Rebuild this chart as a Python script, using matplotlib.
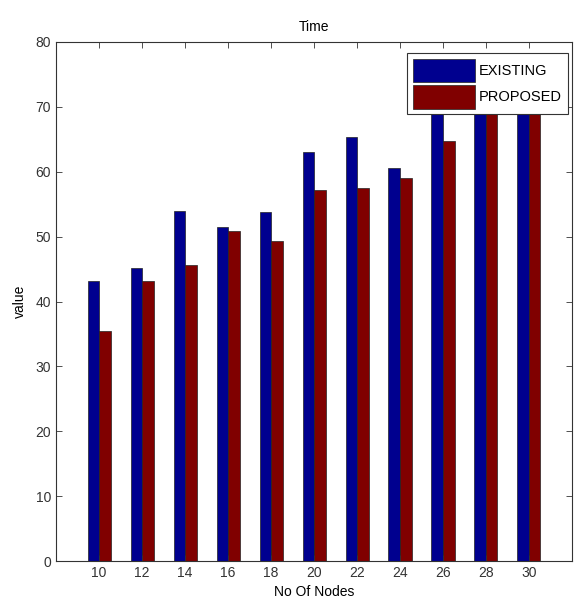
import numpy as np
import matplotlib
matplotlib.use("Agg")
import matplotlib.pyplot as plt

plt.rcParams['font.family'] = ['Liberation Sans Narrow', 'Liberation Sans', 'DejaVu Sans']

nodes = [10, 12, 14, 16, 18, 20, 22, 24, 26, 28, 30]
existing = [43.1, 45.2, 54.0, 51.5, 53.8, 63.1, 65.4, 60.6, 71.5, 75.5, 77.0]
proposed = [35.5, 43.2, 45.7, 50.9, 49.4, 57.2, 57.5, 59.1, 64.7, 72.0, 74.0]

fig = plt.figure(figsize=(5.74, 6.13), dpi=100)
ax = fig.add_axes([0.0976, 0.0848, 0.8989, 0.8467])

x = np.array(nodes)
w = 0.535
ax.bar(x - w / 2, existing, width=w, color=(0, 0, 0.5625), edgecolor='#222222',
       linewidth=0.5, label='EXISTING')
ax.bar(x + w / 2, proposed, width=w, color=(0.5, 0, 0), edgecolor='#222222',
       linewidth=0.5, label='PROPOSED')

ax.set_xlim(8, 32)
ax.set_ylim(0, 80)
ax.set_xticks(nodes)
ax.set_yticks(range(0, 81, 10))
ax.tick_params(direction='in', top=True, right=True, length=4, width=0.6,
               labelsize=10, colors='#333333')
for s in ax.spines.values():
    s.set_linewidth(0.8)
    s.set_color('#333333')

ax.set_title('Time', fontsize=10, pad=8)
ax.set_xlabel('No Of Nodes', fontsize=10, labelpad=4)
ax.set_ylabel('value', fontsize=10, labelpad=6)

leg = ax.legend(loc='upper right', bbox_to_anchor=(0.992, 0.979), borderaxespad=0,
                fontsize=10.5, fancybox=False, framealpha=1, edgecolor='#333333',
                borderpad=0.4, handlelength=4.3, handleheight=2.1,
                handletextpad=0.25, labelspacing=0.2)
leg.get_frame().set_linewidth(0.8)

fig.savefig("out.png", dpi=100)
